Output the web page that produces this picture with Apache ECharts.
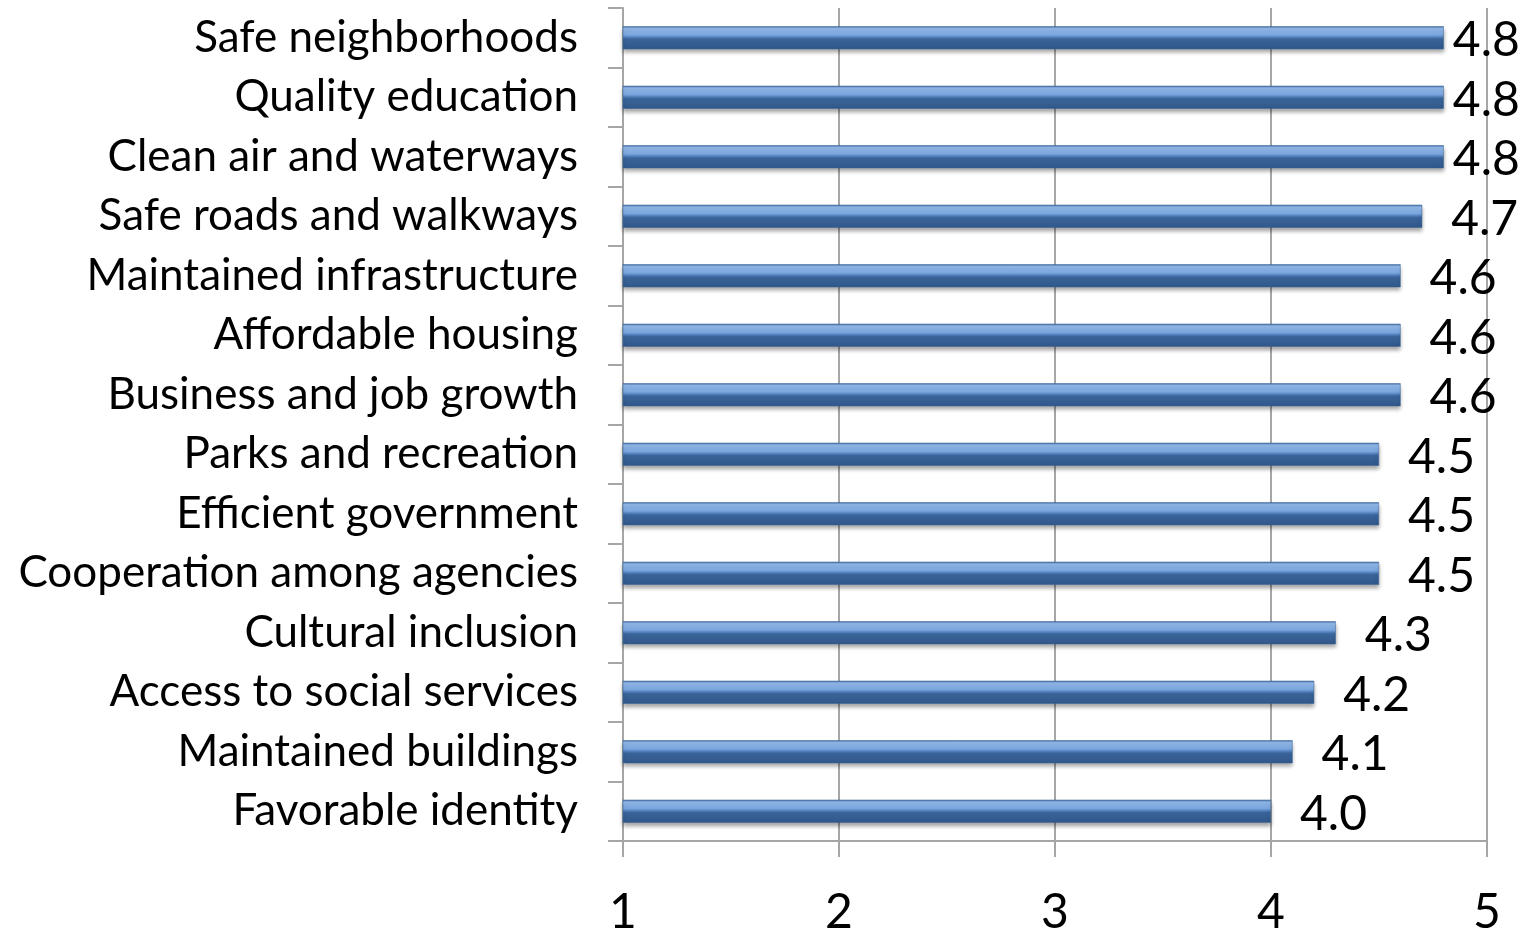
<!DOCTYPE html>
<html><head><meta charset="utf-8">
<script src="https://cdn.jsdelivr.net/npm/echarts@6/dist/echarts.min.js"></script>
<style>html,body{margin:0;padding:0;background:#fff}#c{width:1531px;height:930px}</style>
</head><body><div id="c"></div>
<script>
const categories = ["Safe neighborhoods","Quality education","Clean air and waterways","Safe roads and walkways","Maintained infrastructure","Affordable housing","Business and job growth","Parks and recreation","Efficient government","Cooperation among agencies","Cultural inclusion","Access to social services","Maintained buildings","Favorable identity"];
const values = [4.8,4.8,4.8,4.7,4.6,4.6,4.6,4.5,4.5,4.5,4.3,4.2,4.1,4.0];
const xTicks = [1,2,3,4,5];

const FONT = 'Lato';
const chart = echarts.init(document.getElementById('c'));
const barGrad = new echarts.graphic.LinearGradient(0,0,0,1,[
  {offset:0,color:'#3f6aa0'},
  {offset:0.1,color:'#92b9ea'},
  {offset:0.38,color:'#7aa6de'},
  {offset:0.5,color:'#4a78b4'},
  {offset:0.56,color:'#3a6499'},
  {offset:1,color:'#30578a'}
]);
const xMax = xTicks[xTicks.length-1];
const data = values.map(v => ({
  value: v,
  label: { distance: (v >= 4.75 ? 9 : 29) }
}));
chart.setOption({
  animation:false,
  grid:{left:623,right:44,top:8,bottom:89,containLabel:false,outerBoundsMode:'none'},
  xAxis:{type:'value',min:xTicks[0],max:xMax,interval:1,
    axisLine:{show:true,lineStyle:{color:'#a6a6a6',width:2}},
    axisTick:{show:true,length:16,lineStyle:{color:'#a6a6a6',width:2}},
    splitLine:{show:true,lineStyle:{color:'#a6a6a6',width:2}},
    axisLabel:{color:'#000',fontFamily:FONT,fontSize:48,margin:48}
  },
  yAxis:{type:'category',data:categories,inverse:true,
    axisLine:{show:true,lineStyle:{color:'#a6a6a6',width:2}},
    axisTick:{show:true,length:15,alignWithLabel:false,lineStyle:{color:'#a6a6a6',width:2}},
    axisLabel:{color:'#000',fontFamily:FONT,fontSize:44,margin:45},
    splitLine:{show:false}
  },
  series:[{type:'bar',data:data,barWidth:23,
    itemStyle:{color:barGrad,borderColor:'#3a6499',borderWidth:0.5,shadowColor:'rgba(0,0,0,0.35)',shadowBlur:4,shadowOffsetY:3},
    label:{show:true,position:'right',color:'#000',fontFamily:FONT,fontSize:48,offset:[0,3],
      formatter:p=>p.value.toFixed(1)}
  }]
});
</script></body></html>
